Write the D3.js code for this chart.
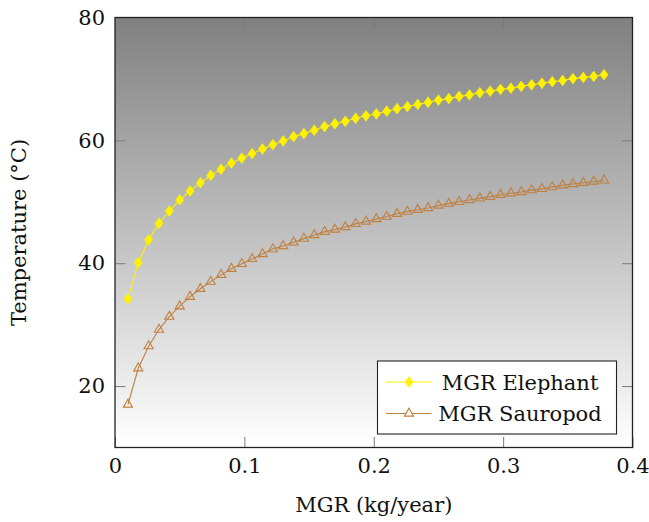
<!DOCTYPE html>
<html>
<head>
<meta charset="utf-8">
<script src="https://cdn.jsdelivr.net/npm/d3@7"></script>
<style>
  body { margin: 0; background: #fff; }
</style>
</head>
<body>
<div id="chart"></div>
<script>
// MGR values (kg/year)
const mgr = [0.010, 0.018, 0.026, 0.034, 0.042, 0.050, 0.058, 0.066, 0.074, 0.082,
  0.090, 0.098, 0.106, 0.114, 0.122, 0.130, 0.138, 0.146, 0.154, 0.162,
  0.170, 0.178, 0.186, 0.194, 0.202, 0.210, 0.218, 0.226, 0.234, 0.242,
  0.250, 0.258, 0.266, 0.274, 0.282, 0.290, 0.298, 0.306, 0.314, 0.322,
  0.330, 0.338, 0.346, 0.354, 0.362, 0.370, 0.378];

const elephant = [34.2, 40.1, 43.8, 46.5, 48.5, 50.3, 51.75, 53.1, 54.3, 55.3,
  56.3, 57.1, 57.85, 58.6, 59.3, 59.9, 60.6, 61.1, 61.65, 62.25,
  62.7, 63.1, 63.6, 64.0, 64.3, 64.75, 65.15, 65.5, 65.85, 66.2,
  66.55, 66.8, 67.15, 67.4, 67.75, 68.0, 68.3, 68.5, 68.8, 69.05,
  69.3, 69.55, 69.75, 70.05, 70.25, 70.4, 70.7];

const sauropod = [17.0, 22.9, 26.5, 29.2, 31.3, 33.0, 34.55, 35.85, 37.0, 38.1,
  39.1, 39.9, 40.7, 41.5, 42.3, 42.8, 43.4, 44.0, 44.6, 45.1,
  45.5, 45.9, 46.4, 46.8, 47.2, 47.6, 48.05, 48.4, 48.7, 49.0,
  49.4, 49.7, 50.0, 50.3, 50.55, 50.8, 51.15, 51.4, 51.6, 51.9,
  52.1, 52.4, 52.7, 52.9, 53.1, 53.3, 53.5];

const xTicks = [0, 0.1, 0.2, 0.3, 0.4];
const yTicks = [20, 40, 60, 80];
const seriesNames = ['MGR Elephant', 'MGR Sauropod'];

const width = 649, height = 522;
const margin = {top: 17.5, right: 16.5, bottom: 74.5, left: 115};
const w = width - margin.left - margin.right;
const h = height - margin.top - margin.bottom;
const font = 'DejaVu Serif';
const fontSize = '21px';

const svg = d3.select('#chart').append('svg')
  .attr('width', width)
  .attr('height', height)
  .style('font-family', font);

// background shading (gray -> white)
const grad = svg.append('defs').append('linearGradient')
  .attr('id', 'bg')
  .attr('x1', 0).attr('y1', 0).attr('x2', 0).attr('y2', 1);
grad.append('stop').attr('offset', '0%').attr('stop-color', '#808080');
grad.append('stop').attr('offset', '100%').attr('stop-color', '#ffffff');

const g = svg.append('g')
  .attr('transform', 'translate(' + margin.left + ',' + margin.top + ')');

const x = d3.scaleLinear().domain([0, 0.4]).range([0, w]);
const y = d3.scaleLinear().domain([10, 80]).range([h, 0]);

g.append('rect')
  .attr('width', w)
  .attr('height', h)
  .attr('fill', 'url(#bg)');

// ticks on all four sides, pointing inward
const tickLen = 10.5;
const tickColor = '#7a7a7a';

const axisStyle = sel => {
  sel.attr('font-family', null).attr('font-size', fontSize);
  sel.select('.domain').remove();
  sel.selectAll('.tick line').attr('stroke', tickColor);
  sel.selectAll('.tick text').attr('fill', '#111').style('font-family', font);
};

g.append('g')
  .attr('transform', 'translate(0,' + h + ')')
  .call(d3.axisBottom(x).tickValues(xTicks).tickFormat(d => d === 0 ? '0' : d3.format('.1f')(d))
    .tickSizeInner(-tickLen).tickSizeOuter(0).tickPadding(11))
  .call(axisStyle);

g.append('g')
  .call(d3.axisTop(x).tickValues(xTicks.slice(1, -1)).tickFormat('')
    .tickSizeInner(-tickLen).tickSizeOuter(0))
  .call(axisStyle);

g.append('g')
  .call(d3.axisLeft(y).tickValues(yTicks).tickSizeInner(-tickLen).tickSizeOuter(0).tickPadding(10))
  .call(axisStyle);

g.append('g')
  .attr('transform', 'translate(' + w + ',0)')
  .call(d3.axisRight(y).tickValues(yTicks.slice(0, -1)).tickFormat('')
    .tickSizeInner(-tickLen).tickSizeOuter(0))
  .call(axisStyle);

// data lines
const elephantData = mgr.map((d, i) => ({x: d, y: elephant[i]}));
const sauropodData = mgr.map((d, i) => ({x: d, y: sauropod[i]}));

const line = d3.line()
  .x(d => x(d.x))
  .y(d => y(d.y));

const yellow = '#fff200';
const brown = '#bf8040';

const diamond = r => 'M0,' + (-r) + 'L' + (0.75 * r) + ',0L0,' + r + 'L' + (-0.75 * r) + ',0Z';
const triangle = r => 'M0,' + (-r) + 'L' + (0.866 * r) + ',' + (0.5 * r) + 'L' + (-0.866 * r) + ',' + (0.5 * r) + 'Z';

g.append('path')
  .datum(elephantData)
  .attr('d', line)
  .attr('fill', 'none')
  .attr('stroke', yellow)
  .attr('stroke-width', 1.1);

g.append('g')
  .selectAll('path')
  .data(elephantData)
  .enter().append('path')
    .attr('transform', d => 'translate(' + x(d.x) + ',' + y(d.y) + ')')
    .attr('d', diamond(5.4))
    .attr('fill', yellow)
    .attr('stroke', yellow)
    .attr('stroke-width', 0.6);

g.append('path')
  .datum(sauropodData)
  .attr('d', line)
  .attr('fill', 'none')
  .attr('stroke', brown)
  .attr('stroke-width', 1.1);

g.append('g')
  .selectAll('path')
  .data(sauropodData)
  .enter().append('path')
    .attr('transform', d => 'translate(' + x(d.x) + ',' + y(d.y) + ')')
    .attr('d', triangle(5.3))
    .attr('fill', 'none')
    .attr('stroke', brown)
    .attr('stroke-width', 1.1);

// frame
g.append('rect')
  .attr('width', w)
  .attr('height', h)
  .attr('fill', 'none')
  .attr('stroke', '#222')
  .attr('stroke-width', 1.3);

// axis labels
svg.append('text')
  .attr('x', margin.left + w / 2)
  .attr('y', 512)
  .attr('text-anchor', 'middle')
  .attr('font-size', fontSize)
  .attr('fill', '#111')
  .text('MGR (kg/year)');

svg.append('text')
  .attr('transform', 'translate(26,' + (margin.top + h / 2) + ') rotate(-90)')
  .attr('text-anchor', 'middle')
  .attr('font-size', fontSize)
  .attr('fill', '#111')
  .text('Temperature (°C)');

// legend
const legendG = svg.append('g')
  .attr('transform', 'translate(377.5,361)');

legendG.append('rect')
  .attr('width', 239)
  .attr('height', 73)
  .attr('fill', '#fff')
  .attr('stroke', '#222')
  .attr('stroke-width', 1.1);

const legendRows = legendG.selectAll('g.row')
  .data(seriesNames)
  .enter().append('g')
    .attr('class', 'row')
    .attr('transform', (d, i) => 'translate(0,' + (21 + i * 31.5) + ')');

legendRows.append('line')
  .attr('x1', 8.5).attr('x2', 54)
  .attr('stroke', (d, i) => i === 0 ? yellow : brown)
  .attr('stroke-width', 1.1);

legendRows.append('path')
  .attr('transform', 'translate(31.5,0)')
  .attr('d', (d, i) => i === 0 ? diamond(5.4) : triangle(5.3))
  .attr('fill', (d, i) => i === 0 ? yellow : '#fff')
  .attr('stroke', (d, i) => i === 0 ? yellow : brown)
  .attr('stroke-width', (d, i) => i === 0 ? 0.6 : 1.1);

legendRows.append('text')
  .attr('x', 142.5)
  .attr('y', 7.5)
  .attr('text-anchor', 'middle')
  .attr('font-size', fontSize)
  .attr('fill', '#111')
  .text(d => d);
</script>
</body>
</html>
